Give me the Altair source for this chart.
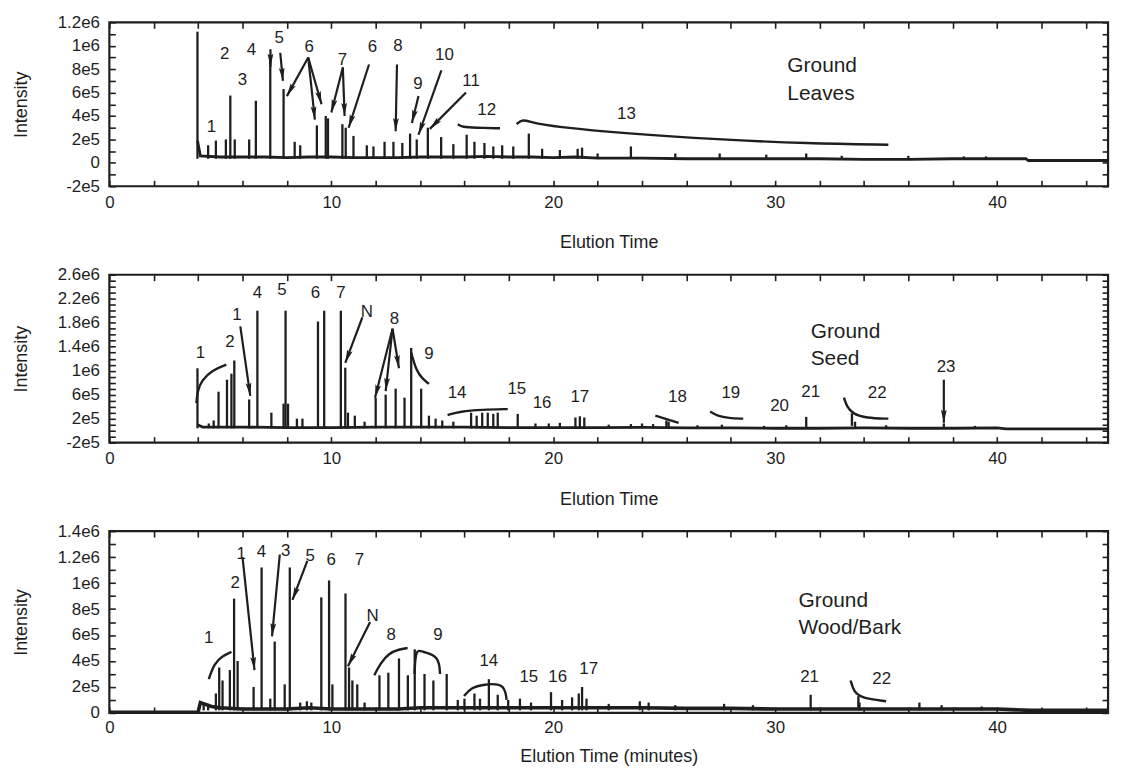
import math
import altair as alt
import pandas as pd

FONT = "Liberation Sans"
INK = "#1e1e1e"
PLOT_W = 1005
T_MAX = 45
X_TICKS = list(range(0, 46, 2))

# ================= Panel 1 : Ground Leaves =================
leaves_base_t = [3.97, 4.1, 5.0, 6.0, 7.0, 8.0, 9.0, 10.0, 11.0, 12.0, 13.0, 14.0, 15.0, 16.0, 17.0,
                 18.0, 19.0, 20.0, 21.0, 22.0, 24.0, 26.0, 28.0, 30.0, 32.0, 34.0, 36.0, 38.0, 40.0,
                 41.3, 41.4, 45.0]
leaves_base_v = [190000, 60000, 50000, 50000, 50000, 45000, 50000, 50000, 45000, 45000, 45000, 50000,
                 50000, 50000, 55000, 50000, 50000, 45000, 50000, 40000, 40000, 35000, 35000, 35000,
                 35000, 30000, 30000, 35000, 35000, 35000, 20000, 20000]
leaves_peak_t = [3.97, 4.45, 4.8, 5.25, 5.45, 5.65, 6.3, 6.6, 7.25, 7.85, 8.35, 8.6, 9.35, 9.75, 9.85,
                 10.5, 10.65, 11.0, 11.6, 11.9, 12.4, 12.8, 13.2, 13.55, 13.85, 14.35, 14.95, 15.5,
                 16.1, 16.45, 16.9, 17.3, 17.7, 18.2, 18.9, 19.5, 20.3, 21.1, 21.3, 22.0, 23.5, 25.5,
                 27.5, 29.6, 31.4, 33.0, 36.0, 38.5, 39.5]
leaves_peak_v = [1120000, 150000, 190000, 200000, 575000, 200000, 200000, 530000, 920000, 630000,
                 180000, 150000, 320000, 400000, 380000, 330000, 300000, 230000, 150000, 140000,
                 180000, 180000, 170000, 250000, 200000, 300000, 220000, 160000, 240000, 180000,
                 170000, 140000, 150000, 140000, 250000, 120000, 110000, 120000, 130000, 80000,
                 140000, 80000, 80000, 70000, 80000, 60000, 60000, 55000, 55000]
leaves_lab_text = ["1", "2", "3", "4", "5", "6", "7", "6", "8", "9", "10", "11", "12", "13"]
leaves_lab_t = [4.6, 5.2, 6.0, 6.4, 7.65, 9.0, 10.5, 11.85, 13.0, 13.9, 15.1, 16.3, 17.0, 23.3]
leaves_lab_v = [310000, 930000, 710000, 960000, 1070000, 990000, 880000, 990000, 1000000, 670000,
                920000, 700000, 450000, 420000]
leaves_arr_t1 = [7.26, 7.7, 8.96, 8.96, 8.96, 10.52, 10.52, 11.7, 12.96, 13.93, 14.96, 16.07]
leaves_arr_v1 = [970000, 940000, 900000, 900000, 900000, 815000, 815000, 840000, 840000, 570000,
                 790000, 600000]
leaves_arr_t2 = [7.26, 7.82, 8.0, 9.26, 9.56, 10.0, 10.6, 10.78, 12.9, 13.63, 13.93, 14.44]
leaves_arr_v2 = [820000, 700000, 570000, 370000, 500000, 430000, 400000, 300000, 270000, 340000,
                 240000, 290000]
leaves_curve_id = ["12"] * 4 + ["13"] * 8
leaves_curve_t = [15.7, 15.9, 16.5, 17.6,
                  18.35, 18.6, 19.1, 20.0, 23.3, 27.4, 31.5, 35.1]
leaves_curve_v = [330000, 305000, 300000, 295000,
                  330000, 375000, 340000, 310000, 250000, 200000, 165000, 155000]
leaves_cap_text = ["Ground", "Leaves"]
leaves_cap_t = [30.55, 30.55]
leaves_cap_v = [830000, 590000]
leaves_ytick_vals = list(range(-200000, 1200001, 100000))
leaves_ymajor_vals = [-200000, 0, 200000, 400000, 600000, 800000, 1000000, 1200000]
leaves_ymajor_text = ["-2e5", "0", "2e5", "4e5", "6e5", "8e5", "1e6", "1.2e6"]

# ================= Panel 2 : Ground Seed =================
seed_base_t = [3.97, 4.2, 6.0, 8.0, 10.0, 12.0, 14.0, 16.0, 18.0, 20.0, 22.0, 24.0, 26.0, 28.0,
               30.0, 32.0, 34.0, 36.0, 38.0, 40.0, 40.4, 45.0]
seed_base_v = [100000, 60000, 60000, 50000, 50000, 60000, 60000, 60000, 50000, 50000, 50000, 55000,
               45000, 45000, 40000, 40000, 45000, 40000, 40000, 45000, 30000, 30000]
seed_peak_t = [3.97, 4.48, 4.7, 4.92, 5.3, 5.5, 5.63, 6.3, 6.67, 7.3, 7.85, 7.94, 8.05, 8.45, 8.7,
               9.4, 9.68, 10.43, 10.63, 10.75, 11.06, 11.5, 12.0, 12.45, 12.9, 13.3, 13.6, 14.05,
               14.4, 14.7, 15.0, 15.5, 16.3, 16.55, 16.8, 17.05, 17.3, 17.5, 18.4, 19.2, 19.8, 20.3,
               21.0, 21.2, 21.4, 22.5, 23.5, 24.0, 24.5, 25.2, 26.5, 27.6, 29.5, 30.5, 31.4, 33.6,
               35.0, 37.6, 39.0]
seed_peak_v = [1040000, 120000, 170000, 650000, 850000, 950000, 1170000, 520000, 2000000, 300000,
               450000, 2000000, 450000, 200000, 200000, 1820000, 2000000, 2000000, 1050000, 300000,
               250000, 150000, 550000, 600000, 700000, 550000, 1380000, 700000, 250000, 200000,
               170000, 150000, 300000, 250000, 300000, 300000, 280000, 300000, 280000, 120000,
               120000, 130000, 220000, 240000, 220000, 100000, 110000, 120000, 110000, 150000,
               90000, 100000, 80000, 90000, 230000, 150000, 90000, 120000, 80000]
seed_lab_text = ["1", "2", "1", "4", "5", "6", "7", "N", "8", "9", "14", "15", "16", "17", "18",
                 "19", "20", "21", "22", "23"]
seed_lab_t = [4.1, 5.43, 5.75, 6.67, 7.78, 9.28, 10.43, 11.6, 12.85, 14.4, 15.67, 18.36, 19.5,
              21.2, 25.6, 28.0, 30.2, 31.6, 34.6, 37.7]
seed_lab_v = [1300000, 1470000, 1920000, 2300000, 2350000, 2300000, 2300000, 1970000, 1860000,
              1280000, 630000, 690000, 460000, 560000, 560000, 630000, 410000, 650000, 620000,
              1060000]
seed_arr_t1 = [5.9, 11.4, 12.76, 12.76, 12.76, 37.6]
seed_arr_v1 = [1740000, 1890000, 1700000, 1700000, 1700000, 850000]
seed_arr_t2 = [6.35, 10.63, 11.97, 12.45, 13.05, 37.6]
seed_arr_v2 = [580000, 1130000, 550000, 660000, 1040000, 130000]
seed_curve_id = (["1"] * 5 + ["9"] * 4 + ["14"] * 4 + ["18a"] * 2 + ["18b"] * 2 + ["19"] * 4
                 + ["22a"] * 5 + ["22b"] * 2)
seed_curve_t = [5.27, 4.63, 4.16, 3.97, 3.92,
                13.6, 13.83, 14.1, 14.4,
                15.24, 15.8, 16.8, 17.95,
                24.6, 25.65,
                25.1, 25.1,
                27.07, 27.4, 27.9, 28.56,
                33.1, 33.23, 33.5, 34.1, 35.1,
                33.46, 33.46]
seed_curve_v = [1100000, 1010000, 840000, 660000, 460000,
                1300000, 1000000, 870000, 780000,
                260000, 320000, 350000, 360000,
                250000, 130000,
                170000, 60000,
                320000, 245000, 210000, 200000,
                550000, 400000, 280000, 210000, 200000,
                290000, 80000]
seed_cap_text = ["Ground", "Seed"]
seed_cap_t = [31.6, 31.6]
seed_cap_v = [1650000, 1200000]
seed_ytick_vals = list(range(-200000, 2600001, 100000))
seed_ymajor_vals = [-200000, 200000, 600000, 1000000, 1400000, 1800000, 2200000, 2600000]
seed_ymajor_text = ["-2e5", "2e5", "6e5", "1e6", "1.4e6", "1.8e6", "2.2e6", "2.6e6"]

# ================= Panel 3 : Ground Wood/Bark =================
wood_base_t = [0.0, 4.0, 4.1, 4.6, 5.0, 6.0, 7.0, 8.0, 9.0, 10.0, 11.0, 12.0, 13.0, 14.0, 15.0,
               16.0, 18.0, 20.0, 22.0, 24.0, 26.0, 28.0, 30.0, 32.0, 34.0, 36.0, 38.0, 40.0, 41.5,
               45.0]
wood_base_v = [5000, 5000, 80000, 50000, 40000, 30000, 30000, 30000, 40000, 30000, 30000, 30000,
               30000, 40000, 40000, 40000, 40000, 40000, 40000, 40000, 35000, 35000, 30000, 30000,
               30000, 30000, 30000, 30000, 20000, 20000]
wood_peak_t = [4.25, 4.45, 4.8, 4.95, 5.1, 5.43, 5.62, 5.78, 6.5, 6.86, 7.25, 7.45, 7.9, 8.13,
               8.6, 8.9, 9.1, 9.55, 9.9, 10.05, 10.64, 10.8, 10.95, 11.17, 11.5, 12.17, 12.57,
               13.05, 13.45, 13.76, 14.2, 14.6, 15.2, 15.7, 16.0, 16.45, 16.7, 17.1, 17.5, 17.97,
               18.5, 19.0, 19.9, 20.4, 20.85, 21.15, 21.3, 21.5, 22.5, 23.9, 24.3, 25.5, 27.7,
               29.0, 31.6, 33.8, 36.5, 37.5, 39.3]
wood_peak_v = [80000, 70000, 150000, 350000, 250000, 330000, 880000, 400000, 200000, 1120000,
               110000, 550000, 220000, 1120000, 80000, 90000, 80000, 890000, 1020000, 220000,
               920000, 350000, 250000, 220000, 80000, 290000, 310000, 420000, 290000, 490000,
               300000, 250000, 300000, 100000, 110000, 150000, 110000, 260000, 140000, 100000,
               110000, 80000, 160000, 100000, 120000, 150000, 200000, 110000, 70000, 90000, 80000,
               60000, 70000, 60000, 140000, 80000, 80000, 60000, 50000]
wood_lab_text = ["1", "2", "1", "4", "3", "5", "6", "7", "N", "8", "9", "14", "15", "16", "17",
                 "21", "22"]
wood_lab_t = [4.48, 5.67, 5.94, 6.85, 7.94, 9.05, 10.0, 11.27, 11.86, 12.7, 14.8, 17.1, 18.9,
              20.2, 21.6, 31.55, 34.8]
wood_lab_v = [580000, 1000000, 1220000, 1240000, 1250000, 1210000, 1180000, 1180000, 750000,
              600000, 600000, 400000, 280000, 280000, 340000, 280000, 260000]
wood_arr_t1 = [6.0, 7.68, 8.92, 11.75]
wood_arr_v1 = [1200000, 1220000, 1170000, 700000]
wood_arr_t2 = [6.54, 7.33, 8.25, 10.75]
wood_arr_v2 = [330000, 590000, 870000, 360000]
wood_curve_id = ["1"] * 4 + ["8"] * 5 + ["9"] * 5 + ["14"] * 5 + ["22a"] * 4 + ["22b"] * 2
wood_curve_t = [4.48, 4.72, 5.1, 5.5,
                11.94, 12.2, 12.6, 13.05, 13.44,
                13.75, 13.8, 14.1, 14.85, 14.9,
                15.98, 16.3, 16.85, 17.8, 17.9,
                33.4, 33.55, 33.9, 35.0,
                33.75, 33.75]
wood_curve_v = [260000, 380000, 440000, 470000,
                290000, 380000, 460000, 490000, 500000,
                300000, 495000, 470000, 440000, 300000,
                130000, 195000, 220000, 230000, 100000,
                250000, 160000, 115000, 90000,
                130000, 40000]
wood_cap_text = ["Ground", "Wood/Bark"]
wood_cap_t = [31.05, 31.05]
wood_cap_v = [860000, 650000]
wood_ytick_vals = list(range(0, 1400001, 100000))
wood_ymajor_vals = [0, 200000, 400000, 600000, 800000, 1000000, 1200000, 1400000]
wood_ymajor_text = ["0", "2e5", "4e5", "6e5", "8e5", "1e6", "1.2e6", "1.4e6"]

ARROW_SHAPE = "M0,0L-0.22,-1L0,-0.82L0.22,-1Z"

AX = dict(domain=False, grid=False, ticks=True, tickSize=6, offset=-6, tickColor=INK,
          tickWidth=1.6, labelFont=FONT, titleFont=FONT, labelColor=INK, titleColor=INK,
          labelFontSize=17, titleFontSize=18, titleFontWeight="normal", labelFlush=False,
          labelOverlap=False)


def label_expr(vals, texts):
    parts = [f"datum.value == {v} ? '{t}'" for v, t in zip(vals, texts)]
    return " : ".join(parts) + " : ''"


def panel(H, ydom, ytick_vals, ymajor_vals, ymajor_text, base_t, base_v, peak_t, peak_v, floor,
          lab_text, lab_t, lab_v, a_t1, a_v1, a_t2, a_v2, c_id, c_t, c_v, cap_text, cap_t, cap_v,
          xtitle, x_lab_pad, x_title_pad, trace_w):
    xs = alt.Scale(domain=[0, T_MAX], nice=False, zero=False)
    ys = alt.Scale(domain=ydom, nice=False, zero=False)
    sx = PLOT_W / T_MAX
    sy = H / (ydom[1] - ydom[0])

    base = pd.DataFrame({"t": base_t, "v": base_v})
    peaks = pd.DataFrame({"t": peak_t, "v": peak_v})
    peaks["v0"] = floor
    labs = pd.DataFrame({"txt": lab_text, "t": lab_t, "v": lab_v})
    arr = pd.DataFrame({"t1": a_t1, "v1": a_v1, "t2": a_t2, "v2": a_v2})
    arr["ang"] = [
        math.degrees(math.atan2(-(r.t2 - r.t1) * sx, -(r.v2 - r.v1) * sy)) % 360
        for r in arr.itertuples()
    ]
    curves = pd.DataFrame({"cid": c_id, "t": c_t, "v": c_v})
    curves["ord"] = range(len(curves))
    caps = pd.DataFrame({"txt": cap_text, "t": cap_t, "v": cap_v})

    x_bottom = alt.Axis(orient="bottom", values=X_TICKS, title=xtitle,
                        labelExpr="datum.value % 10 === 0 ? '' + datum.value : ''",
                        labelPadding=x_lab_pad, titlePadding=x_title_pad, **AX)
    y_left = alt.Axis(orient="left", values=ytick_vals, title="Intensity",
                      labelExpr=label_expr(ymajor_vals, ymajor_text),
                      labelPadding=10, titlePadding=27, **AX)
    x_top = alt.Axis(orient="top", values=X_TICKS, labels=False, title=None, **AX)
    y_right = alt.Axis(orient="right", values=ytick_vals, labels=False, title=None, **AX)

    trace = alt.Chart(base).mark_line(color=INK, strokeWidth=trace_w, interpolate="linear").encode(
        x=alt.X("t:Q", scale=xs, axis=x_bottom),
        y=alt.Y("v:Q", scale=ys, axis=y_left),
    )
    spikes = alt.Chart(peaks).mark_rule(color=INK, strokeWidth=2.3).encode(
        x=alt.X("t:Q", scale=xs, axis=x_top),
        y=alt.Y("v0:Q", scale=ys, axis=y_right),
        y2="v:Q",
    )
    brackets = alt.Chart(curves).mark_line(color=INK, strokeWidth=2.4, interpolate="basis").encode(
        x=alt.X("t:Q", scale=xs, axis=None),
        y=alt.Y("v:Q", scale=ys, axis=None),
        detail="cid:N",
        order="ord:Q",
    )
    shafts = alt.Chart(arr).mark_rule(color=INK, strokeWidth=2.2).encode(
        x=alt.X("t1:Q", scale=xs, axis=None),
        y=alt.Y("v1:Q", scale=ys, axis=None),
        x2="t2:Q",
        y2="v2:Q",
    )
    heads = alt.Chart(arr).mark_point(shape=ARROW_SHAPE, filled=True, opacity=1, color=INK,
                                      size=700, strokeWidth=0).encode(
        x=alt.X("t2:Q", scale=xs, axis=None),
        y=alt.Y("v2:Q", scale=ys, axis=None),
        angle=alt.Angle("ang:Q", scale=None),
    )
    numbers = alt.Chart(labs).mark_text(font=FONT, fontSize=17, color=INK, baseline="middle",
                                        align="center").encode(
        x=alt.X("t:Q", scale=xs, axis=None),
        y=alt.Y("v:Q", scale=ys, axis=None),
        text="txt:N",
    )
    caption = alt.Chart(caps).mark_text(font=FONT, fontSize=21, color=INK, baseline="middle",
                                        align="left").encode(
        x=alt.X("t:Q", scale=xs, axis=None),
        y=alt.Y("v:Q", scale=ys, axis=None),
        text="txt:N",
    )
    return (
        alt.layer(trace, spikes, brackets, shafts, heads, numbers, caption)
        .resolve_axis(x="independent", y="independent")
        .properties(width=PLOT_W, height=H)
    )


p1 = panel(165, [-200000, 1200000], leaves_ytick_vals, leaves_ymajor_vals, leaves_ymajor_text,
           leaves_base_t, leaves_base_v, leaves_peak_t, leaves_peak_v, 35000,
           leaves_lab_text, leaves_lab_t, leaves_lab_v,
           leaves_arr_t1, leaves_arr_v1, leaves_arr_t2, leaves_arr_v2,
           leaves_curve_id, leaves_curve_t, leaves_curve_v,
           leaves_cap_text, leaves_cap_t, leaves_cap_v, "Elution Time", 8, 24, 2.8)
p2 = panel(169, [-200000, 2600000], seed_ytick_vals, seed_ymajor_vals, seed_ymajor_text,
           seed_base_t, seed_base_v, seed_peak_t, seed_peak_v, 40000,
           seed_lab_text, seed_lab_t, seed_lab_v,
           seed_arr_t1, seed_arr_v1, seed_arr_t2, seed_arr_v2,
           seed_curve_id, seed_curve_t, seed_curve_v,
           seed_cap_text, seed_cap_t, seed_cap_v, "Elution Time", 8, 24, 2.8)
p3 = panel(183, [0, 1400000], wood_ytick_vals, wood_ymajor_vals, wood_ymajor_text,
           wood_base_t, wood_base_v, wood_peak_t, wood_peak_v, 20000,
           wood_lab_text, wood_lab_t, wood_lab_v,
           wood_arr_t1, wood_arr_v1, wood_arr_t2, wood_arr_v2,
           wood_curve_id, wood_curve_t, wood_curve_v,
           wood_cap_text, wood_cap_t, wood_cap_v, "Elution Time (minutes)", 7, 12, 3.6)

chart = (
    alt.vconcat(p1, p2, p3, spacing=10)
    .properties(padding={"left": 3, "top": 1, "right": 0, "bottom": 0})
    .configure_view(stroke=INK, strokeWidth=2.2)
)

chart.save("out.html", embed_options={"renderer": "svg", "actions": False})
